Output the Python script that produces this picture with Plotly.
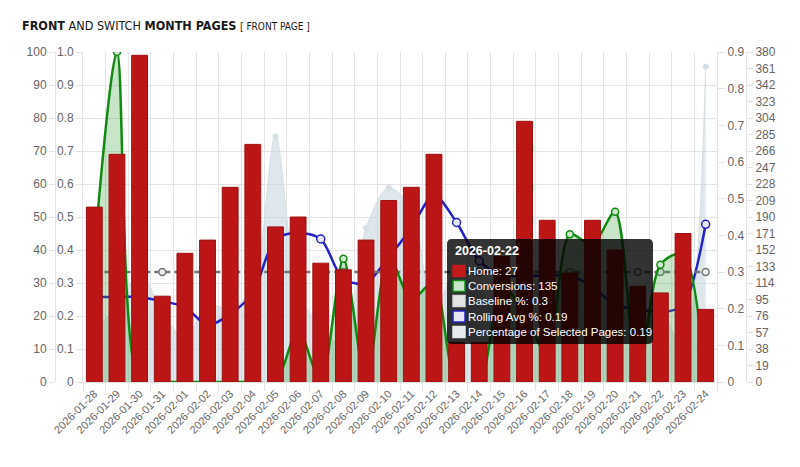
import plotly.graph_objects as go

# ---------------- data ----------------
dates = ["2026-01-28", "2026-01-29", "2026-01-30", "2026-01-31", "2026-02-01",
         "2026-02-02", "2026-02-03", "2026-02-04", "2026-02-05", "2026-02-06",
         "2026-02-07", "2026-02-08", "2026-02-09", "2026-02-10", "2026-02-11",
         "2026-02-12", "2026-02-13", "2026-02-14", "2026-02-15", "2026-02-16",
         "2026-02-17", "2026-02-18", "2026-02-19", "2026-02-20", "2026-02-21",
         "2026-02-22", "2026-02-23", "2026-02-24"]

home = [53, 69, 99, 26, 39, 43, 59, 72, 47, 50, 36, 34, 43, 55,
        59, 69, 12, 12, 38, 79, 49, 33, 49, 40, 29, 27, 45, 22]

conversions = [150, 380, 0, 0, 0, 0, 0, 0, 0, 60, 0, 142, 0, 145,
               95, 115, 0, 0, 110, 80, 30, 170, 158, 196, 0, 135, 148, 0]

baseline_pct = [0.3, 0.3, 0.3, 0.3, 0.3, 0.3, 0.3, 0.3, 0.3, 0.3,
                0.3, 0.3, 0.3, 0.3, 0.3, 0.3, 0.3, 0.3, 0.3, 0.3,
                0.3, 0.3, 0.3, 0.3, 0.3, 0.3, 0.3, 0.3]

rolling_avg_pct = [0.232, 0.232, 0.232, 0.22, 0.205, 0.155, 0.185, 0.243, 0.39, 0.407,
                   0.39, 0.28, 0.27, 0.34, 0.42, 0.51, 0.435, 0.33, 0.29, 0.29,
                   0.29, 0.29, 0.26, 0.21, 0.2, 0.19, 0.21, 0.43]

selected_pct = [0.15, 0.2, 0.3, 0.19, 0.12, 0.21, 0.2, 0.26, 0.67, 0.25,
                0.15, 0.1, 0.42, 0.53, 0.47, 0.2, 0.3, 0.25, 0.2, 0.3,
                0.25, 0.3, 0.28, 0.18, 0.2, 0.19, 0.1, 0.86]

count_ticks = [0, 10, 20, 30, 40, 50, 60, 70, 80, 90, 100]
ratio_ticks = [0, 0.1, 0.2, 0.3, 0.4, 0.5, 0.6, 0.7, 0.8, 0.9, 1.0]
ratio_labels = ["0", "0.1", "0.2", "0.3", "0.4", "0.5", "0.6", "0.7", "0.8", "0.9", "1.0"]
pct_ticks = [0, 0.1, 0.2, 0.3, 0.4, 0.5, 0.6, 0.7, 0.8, 0.9]
pct_labels = ["0", "0.1", "0.2", "0.3", "0.4", "0.5", "0.6", "0.7", "0.8", "0.9"]
conv_ticks = [0, 19, 38, 57, 76, 95, 114, 133, 152, 171, 190, 209, 228, 247,
              266, 285, 304, 323, 342, 361, 380]

tooltip_index = 25

# ---------------- styles ----------------
RED = "#bb1515"
GREEN = "#128a12"
BLUE = "#2323c6"
GRAYLINE = "#767676"
GRID = "#e4e4e4"
TICKFONT = dict(family="Liberation Sans, Arial, sans-serif", size=12, color="#666")

# page has an 8px body margin, so the figure is 784x451 placed at (8, 8)
W, H = 784, 451
L, R, T, B = 32, 32, 44, 77
pw = W - L - R          # 720
ph = H - T - B          # 330


def px(xr):   # reference-screen x -> paper x
    return (xr - 8 - L) / pw


def py(yr):   # reference-screen y -> paper y
    return (H - B + 8 - yr) / ph


fig = go.Figure()

# empty helper trace so the main (left inner 0-1.0) axis subplot exists
fig.add_trace(go.Scatter(x=[], y=[], yaxis="y", hoverinfo="skip", showlegend=False))

fig.add_trace(go.Scatter(
    x=dates, y=selected_pct, yaxis="y2", name="Percentage of Selected Pages",
    mode="lines+markers", line=dict(shape="spline", smoothing=0.9, color="rgba(212,223,227,1)", width=1),
    fill="tozeroy", fillcolor="rgba(195,212,218,0.55)",
    marker=dict(size=5, color="#d4dfe3", line=dict(color="#d4dfe3", width=1))))

fig.add_trace(go.Scatter(
    x=dates, y=rolling_avg_pct, yaxis="y2", name="Rolling Avg %",
    mode="lines+markers", line=dict(shape="spline", smoothing=0.8, color=BLUE, width=2.5),
    marker=dict(size=8, color="#e8e8f4", line=dict(color=BLUE, width=1.5))))

fig.add_trace(go.Scatter(
    x=dates, y=baseline_pct, yaxis="y2", name="Baseline %",
    mode="lines+markers", line=dict(color=GRAYLINE, width=2.5, dash="6px,4px"),
    marker=dict(size=7, color="#eeeeee", line=dict(color=GRAYLINE, width=1.5))))

fig.add_trace(go.Scatter(
    x=dates, y=conversions, yaxis="y3", name="Conversions",
    mode="lines+markers", line=dict(shape="spline", smoothing=0.8, color=GREEN, width=2.5),
    fill="tozeroy", fillcolor="rgba(40,150,40,0.25)",
    marker=dict(size=7, color="#cde8cd", line=dict(color=GREEN, width=1.5))))

fig.add_trace(go.Bar(
    x=dates, y=home, yaxis="y4", name="Home",
    marker=dict(color=RED, line=dict(color="#a01010", width=1))))

# ---------------- tooltip (as drawn in the reference) ----------------
i = tooltip_index
bx0, bx1, by0, by1 = 447, 653, 239, 344
rx, ry = 5 / pw, 5 / ph
X0, X1, Y0, Y1 = px(bx0), px(bx1), py(by1), py(by0)
path = (f"M {X0+rx},{Y0} L {X1-rx},{Y0} Q {X1},{Y0} {X1},{Y0+ry} "
        f"L {X1},{Y1-ry} Q {X1},{Y1} {X1-rx},{Y1} L {X0+rx},{Y1} Q {X0},{Y1} {X0},{Y1-ry} "
        f"L {X0},{Y0+ry} Q {X0},{Y0} {X0+rx},{Y0} Z")
shapes = [dict(type="path", xref="paper", yref="paper", path=path,
               fillcolor="rgba(0,0,0,0.8)", line=dict(width=0), layer="above")]

rows = [("Home", home[i], "#c41a1a", "#c41a1a"),
        ("Conversions", conversions[i], "#c9e7c9", GREEN),
        ("Baseline %", baseline_pct[i], "#e4e4e4", "#d8d8d8"),
        ("Rolling Avg %", rolling_avg_pct[i], "#e6e6f4", BLUE),
        ("Percentage of Selected Pages", selected_pct[i], "#e6ecee", "#e6ecee")]
row_y = [271, 286, 301, 316.5, 332]
for (name, val, fillc, linec), yc in zip(rows, row_y):
    shapes.append(dict(type="rect", xref="paper", yref="paper",
                       x0=px(453), x1=px(465), y0=py(yc + 5.5), y1=py(yc - 5.5),
                       fillcolor=fillc, line=dict(color=linec, width=1.5), layer="above"))

fig.add_annotation(
    xref="paper", yref="paper", x=px(453), y=py(251),
    xanchor="left", yanchor="middle", text="<b>{}</b>".format(dates[i]), showarrow=False,
    font=dict(family="Liberation Sans, Arial, sans-serif", size=12.5, color="white"))

for (name, val, fillc, linec), yc in zip(rows, row_y):
    fig.add_annotation(
        xref="paper", yref="paper", x=px(466), y=py(yc),
        xanchor="left", yanchor="middle", text="{}: {}".format(name, val), showarrow=False,
        font=dict(family="Liberation Sans, Arial, sans-serif", size=11.5, color="white"))

fig.update_layout(
    width=W, height=H,
    margin=dict(l=L, r=R, t=T, b=B, autoexpand=False),
    paper_bgcolor="white", plot_bgcolor="white",
    showlegend=False, bargap=0.3, shapes=shapes,
    title=dict(
        text="<b>FRONT</b> AND SWITCH <b>MONTH PAGES</b> <span style='font-size:10px'>[ FRONT PAGE ]</span>",
        x=14 / W, xref="container", xanchor="left",
        y=1 - 18 / H, yref="container", yanchor="middle", automargin=False,
        font=dict(family="Liberation Sans Narrow, DejaVu Sans Condensed, Roboto, sans-serif", size=12.5, color="#1a1a1a")),
    xaxis=dict(
        type="category", domain=[px(83), px(717)], range=[-0.5, len(dates) - 0.5],
        tickson="boundaries", showgrid=True, gridcolor=GRID, ticks="outside", ticklen=8,
        tickcolor=GRID, tickangle=-45, showline=True, linecolor=GRID, automargin=False,
        tickfont=dict(family="Liberation Sans, Arial, sans-serif", size=11, color="#666")),
    yaxis=dict(
        range=[0, 1], tickvals=ratio_ticks, ticktext=ratio_labels, showgrid=True, gridcolor=GRID,
        zeroline=False, ticks="outside", ticklen=6, tickcolor=GRID, showline=True, linecolor=GRID,
        automargin=False, tickfont=TICKFONT),
    yaxis2=dict(
        overlaying="y", side="right", anchor="x", range=[0, 0.9], tickvals=pct_ticks, ticktext=pct_labels,
        showgrid=False, zeroline=False, ticks="outside", ticklen=7, tickcolor=GRID,
        showline=True, linecolor=GRID, automargin=False, tickfont=TICKFONT),
    yaxis3=dict(
        overlaying="y", side="right", anchor="free", position=px(746), range=[0, 380],
        tickvals=conv_ticks, showgrid=False, zeroline=False, ticks="outside", ticklen=6, tickcolor=GRID,
        showline=True, linecolor=GRID, automargin=False, tickfont=TICKFONT),
    yaxis4=dict(
        overlaying="y", side="left", anchor="free", position=px(55), range=[0, 100],
        tickvals=count_ticks, showgrid=False, zeroline=False, ticks="outside", ticklen=6, tickcolor=GRID,
        showline=True, linecolor=GRID, automargin=False, tickfont=TICKFONT),
)

fig.write_html("out.html")
